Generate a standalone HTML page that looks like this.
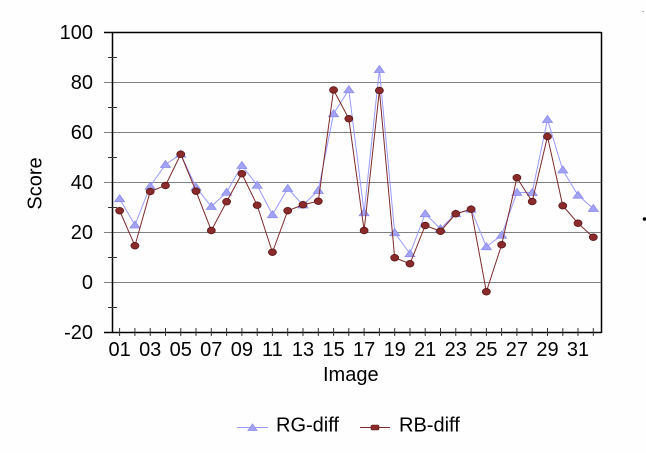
<!DOCTYPE html>
<html>
<head>
<meta charset="utf-8">
<style>
  html,body{margin:0;padding:0;background:#fefefe;}
  svg{display:block;}
  text{font-family:"Liberation Sans",Arial,sans-serif;fill:#000;}
</style>
</head>
<body>
<svg width="646" height="453" viewBox="0 0 646 453" xmlns="http://www.w3.org/2000/svg">
  <rect x="0" y="0" width="646" height="453" fill="#fefefe"/>

  <!-- gridlines -->
  <g stroke="#808080" stroke-width="1">
    <line x1="104" y1="82.5" x2="601" y2="82.5"/>
    <line x1="104" y1="132.5" x2="601" y2="132.5"/>
    <line x1="104" y1="182.5" x2="601" y2="182.5"/>
    <line x1="104" y1="232.5" x2="601" y2="232.5"/>
    <line x1="104" y1="282.5" x2="601" y2="282.5"/>
  </g>

  <!-- plot border / axes -->
  <g stroke="#000" stroke-width="1.5" fill="none">
    <line x1="104" y1="32.5" x2="601.5" y2="32.5"/>
    <line x1="601.5" y1="32" x2="601.5" y2="333"/>
    <line x1="112.5" y1="32" x2="112.5" y2="333"/>
    <line x1="104" y1="332.5" x2="601.5" y2="332.5"/>
  </g>

  <!-- y minor ticks -->
  <g stroke="#333" stroke-width="1">
    <line x1="108" y1="57.5" x2="117" y2="57.5"/>
    <line x1="108" y1="107.5" x2="117" y2="107.5"/>
    <line x1="108" y1="157.5" x2="117" y2="157.5"/>
    <line x1="108" y1="207.5" x2="117" y2="207.5"/>
    <line x1="108" y1="257.5" x2="117" y2="257.5"/>
    <line x1="108" y1="307.5" x2="117" y2="307.5"/>
  </g>

  <!-- x ticks -->
  <g stroke="#333" stroke-width="1">
    <line x1="119.6" y1="328" x2="119.6" y2="336"/>
    <line x1="134.9" y1="328" x2="134.9" y2="336"/>
    <line x1="150.2" y1="328" x2="150.2" y2="336"/>
    <line x1="165.5" y1="328" x2="165.5" y2="336"/>
    <line x1="180.8" y1="328" x2="180.8" y2="336"/>
    <line x1="196.0" y1="328" x2="196.0" y2="336"/>
    <line x1="211.3" y1="328" x2="211.3" y2="336"/>
    <line x1="226.6" y1="328" x2="226.6" y2="336"/>
    <line x1="241.9" y1="328" x2="241.9" y2="336"/>
    <line x1="257.2" y1="328" x2="257.2" y2="336"/>
    <line x1="272.4" y1="328" x2="272.4" y2="336"/>
    <line x1="287.7" y1="328" x2="287.7" y2="336"/>
    <line x1="303.0" y1="328" x2="303.0" y2="336"/>
    <line x1="318.3" y1="328" x2="318.3" y2="336"/>
    <line x1="333.6" y1="328" x2="333.6" y2="336"/>
    <line x1="348.8" y1="328" x2="348.8" y2="336"/>
    <line x1="364.1" y1="328" x2="364.1" y2="336"/>
    <line x1="379.4" y1="328" x2="379.4" y2="336"/>
    <line x1="394.7" y1="328" x2="394.7" y2="336"/>
    <line x1="410.0" y1="328" x2="410.0" y2="336"/>
    <line x1="425.2" y1="328" x2="425.2" y2="336"/>
    <line x1="440.5" y1="328" x2="440.5" y2="336"/>
    <line x1="455.8" y1="328" x2="455.8" y2="336"/>
    <line x1="471.1" y1="328" x2="471.1" y2="336"/>
    <line x1="486.4" y1="328" x2="486.4" y2="336"/>
    <line x1="501.6" y1="328" x2="501.6" y2="336"/>
    <line x1="516.9" y1="328" x2="516.9" y2="336"/>
    <line x1="532.2" y1="328" x2="532.2" y2="336"/>
    <line x1="547.5" y1="328" x2="547.5" y2="336"/>
    <line x1="562.8" y1="328" x2="562.8" y2="336"/>
    <line x1="578.0" y1="328" x2="578.0" y2="336"/>
    <line x1="593.3" y1="328" x2="593.3" y2="336"/>
  </g>

  <!-- y labels -->
  <g font-size="20" text-anchor="end">
    <text x="93" y="39">100</text>
    <text x="93" y="89">80</text>
    <text x="93" y="139">60</text>
    <text x="93" y="189">40</text>
    <text x="93" y="239">20</text>
    <text x="93" y="289">0</text>
    <text x="93" y="339">-20</text>
  </g>

  <!-- x labels -->
  <g font-size="20" text-anchor="middle">
    <text x="119.6" y="356">01</text>
    <text x="150.2" y="356">03</text>
    <text x="180.8" y="356">05</text>
    <text x="211.3" y="356">07</text>
    <text x="241.9" y="356">09</text>
    <text x="272.4" y="356">11</text>
    <text x="303.0" y="356">13</text>
    <text x="333.6" y="356">15</text>
    <text x="364.1" y="356">17</text>
    <text x="394.7" y="356">19</text>
    <text x="425.2" y="356">21</text>
    <text x="455.8" y="356">23</text>
    <text x="486.4" y="356">25</text>
    <text x="516.9" y="356">27</text>
    <text x="547.5" y="356">29</text>
    <text x="578.0" y="356">31</text>
  </g>

  <!-- axis titles -->
  <text font-size="20" x="323" y="381">Image</text>
  <text font-size="20" text-anchor="middle" transform="translate(41.5,183.5) rotate(-90)">Score</text>

  <!-- RG-diff series -->
  <polyline fill="none" stroke="#9999FF" stroke-width="1"
    points="119.64,198.75 134.92,225 150.2,186.25 165.48,164.5 180.76,154.25 196.04,187.25 211.32,206.5 226.6,192.25 241.88,165.5 257.16,185.25 272.44,214.75 287.72,188.5 303,205 318.28,190.5 333.56,113.75 348.84,89.75 364.12,212.75 379.4,69.5 394.68,232.75 409.96,253.75 425.24,213.75 440.52,228.75 455.8,213.75 471.08,209.25 486.36,246.75 501.64,235.25 516.92,192.5 532.2,192.5 547.48,119.5 562.76,170 578.04,195.25 593.32,208.5"/>
  <g fill="#A3A3F5" stroke="#8C8CEE" stroke-width="0.8">
    <polygon points="119.64,194.75 114.64,201.75 124.64,201.75"/>
    <polygon points="134.92,221 129.92,228 139.92,228"/>
    <polygon points="150.2,182.25 145.2,189.25 155.2,189.25"/>
    <polygon points="165.48,160.5 160.48,167.5 170.48,167.5"/>
    <polygon points="180.76,150.25 175.76,157.25 185.76,157.25"/>
    <polygon points="196.04,183.25 191.04,190.25 201.04,190.25"/>
    <polygon points="211.32,202.5 206.32,209.5 216.32,209.5"/>
    <polygon points="226.6,188.25 221.6,195.25 231.6,195.25"/>
    <polygon points="241.88,161.5 236.88,168.5 246.88,168.5"/>
    <polygon points="257.16,181.25 252.16,188.25 262.16,188.25"/>
    <polygon points="272.44,210.75 267.44,217.75 277.44,217.75"/>
    <polygon points="287.72,184.5 282.72,191.5 292.72,191.5"/>
    <polygon points="303,201 298,208 308,208"/>
    <polygon points="318.28,186.5 313.28,193.5 323.28,193.5"/>
    <polygon points="333.56,109.75 328.56,116.75 338.56,116.75"/>
    <polygon points="348.84,85.75 343.84,92.75 353.84,92.75"/>
    <polygon points="364.12,208.75 359.12,215.75 369.12,215.75"/>
    <polygon points="379.4,65.5 374.4,72.5 384.4,72.5"/>
    <polygon points="394.68,228.75 389.68,235.75 399.68,235.75"/>
    <polygon points="409.96,249.75 404.96,256.75 414.96,256.75"/>
    <polygon points="425.24,209.75 420.24,216.75 430.24,216.75"/>
    <polygon points="440.52,224.75 435.52,231.75 445.52,231.75"/>
    <polygon points="455.8,209.75 450.8,216.75 460.8,216.75"/>
    <polygon points="471.08,205.25 466.08,212.25 476.08,212.25"/>
    <polygon points="486.36,242.75 481.36,249.75 491.36,249.75"/>
    <polygon points="501.64,231.25 496.64,238.25 506.64,238.25"/>
    <polygon points="516.92,188.5 511.92,195.5 521.92,195.5"/>
    <polygon points="532.2,188.5 527.2,195.5 537.2,195.5"/>
    <polygon points="547.48,115.5 542.48,122.5 552.48,122.5"/>
    <polygon points="562.76,166 557.76,173 567.76,173"/>
    <polygon points="578.04,191.25 573.04,198.25 583.04,198.25"/>
    <polygon points="593.32,204.5 588.32,211.5 598.32,211.5"/>
  </g>

  <!-- RB-diff series -->
  <polyline fill="none" stroke="#7F2A2A" stroke-width="1"
    points="119.64,210.75 134.92,245.75 150.2,191.5 165.48,185.5 180.76,154.25 196.04,191.25 211.32,230.5 226.6,201.75 241.88,173.75 257.16,205.25 272.44,252.25 287.72,210.75 303,204.75 318.28,201.25 333.56,90 348.84,118.75 364.12,230.5 379.4,90.5 394.68,257.75 409.96,263.75 425.24,225.5 440.52,231.25 455.8,213.75 471.08,209.25 486.36,291.75 501.64,244.75 516.92,177.75 532.2,201.5 547.48,136.5 562.76,205.75 578.04,223.25 593.32,237.25"/>
  <g fill="#8B2A2A" stroke="#5A1818" stroke-width="0.8">
    <ellipse cx="119.64" cy="210.75" rx="4" ry="3.3"/>
    <ellipse cx="134.92" cy="245.75" rx="4" ry="3.3"/>
    <ellipse cx="150.2" cy="191.5" rx="4" ry="3.3"/>
    <ellipse cx="165.48" cy="185.5" rx="4" ry="3.3"/>
    <ellipse cx="180.76" cy="154.25" rx="4" ry="3.3"/>
    <ellipse cx="196.04" cy="191.25" rx="4" ry="3.3"/>
    <ellipse cx="211.32" cy="230.5" rx="4" ry="3.3"/>
    <ellipse cx="226.6" cy="201.75" rx="4" ry="3.3"/>
    <ellipse cx="241.88" cy="173.75" rx="4" ry="3.3"/>
    <ellipse cx="257.16" cy="205.25" rx="4" ry="3.3"/>
    <ellipse cx="272.44" cy="252.25" rx="4" ry="3.3"/>
    <ellipse cx="287.72" cy="210.75" rx="4" ry="3.3"/>
    <ellipse cx="303" cy="204.75" rx="4" ry="3.3"/>
    <ellipse cx="318.28" cy="201.25" rx="4" ry="3.3"/>
    <ellipse cx="333.56" cy="90" rx="4" ry="3.3"/>
    <ellipse cx="348.84" cy="118.75" rx="4" ry="3.3"/>
    <ellipse cx="364.12" cy="230.5" rx="4" ry="3.3"/>
    <ellipse cx="379.4" cy="90.5" rx="4" ry="3.3"/>
    <ellipse cx="394.68" cy="257.75" rx="4" ry="3.3"/>
    <ellipse cx="409.96" cy="263.75" rx="4" ry="3.3"/>
    <ellipse cx="425.24" cy="225.5" rx="4" ry="3.3"/>
    <ellipse cx="440.52" cy="231.25" rx="4" ry="3.3"/>
    <ellipse cx="455.8" cy="213.75" rx="4" ry="3.3"/>
    <ellipse cx="471.08" cy="209.25" rx="4" ry="3.3"/>
    <ellipse cx="486.36" cy="291.75" rx="4" ry="3.3"/>
    <ellipse cx="501.64" cy="244.75" rx="4" ry="3.3"/>
    <ellipse cx="516.92" cy="177.75" rx="4" ry="3.3"/>
    <ellipse cx="532.2" cy="201.5" rx="4" ry="3.3"/>
    <ellipse cx="547.48" cy="136.5" rx="4" ry="3.3"/>
    <ellipse cx="562.76" cy="205.75" rx="4" ry="3.3"/>
    <ellipse cx="578.04" cy="223.25" rx="4" ry="3.3"/>
    <ellipse cx="593.32" cy="237.25" rx="4" ry="3.3"/>
  </g>

  <!-- legend -->
  <line x1="237" y1="427.5" x2="268" y2="427.5" stroke="#9999FF" stroke-width="1"/>
  <polygon points="252.5,424 248,430.5 257,430.5" fill="#A3A3F5" stroke="#8C8CEE" stroke-width="0.8"/>
  <text font-size="20" x="276" y="431.5">RG-diff</text>
  <line x1="360" y1="427.5" x2="390" y2="427.5" stroke="#7F2A2A" stroke-width="1"/>
  <rect x="371" y="425" width="8" height="5" rx="1.5" fill="#8B2A2A" stroke="#5A1818" stroke-width="0.6"/>
  <text font-size="20" x="399" y="431.5">RB-diff</text>

  <!-- stray marks -->
  <circle cx="644.5" cy="219" r="1.8" fill="#000"/>
  <line x1="642" y1="11.5" x2="644" y2="11.5" stroke="#bbb" stroke-width="1"/>
</svg>
</body>
</html>
